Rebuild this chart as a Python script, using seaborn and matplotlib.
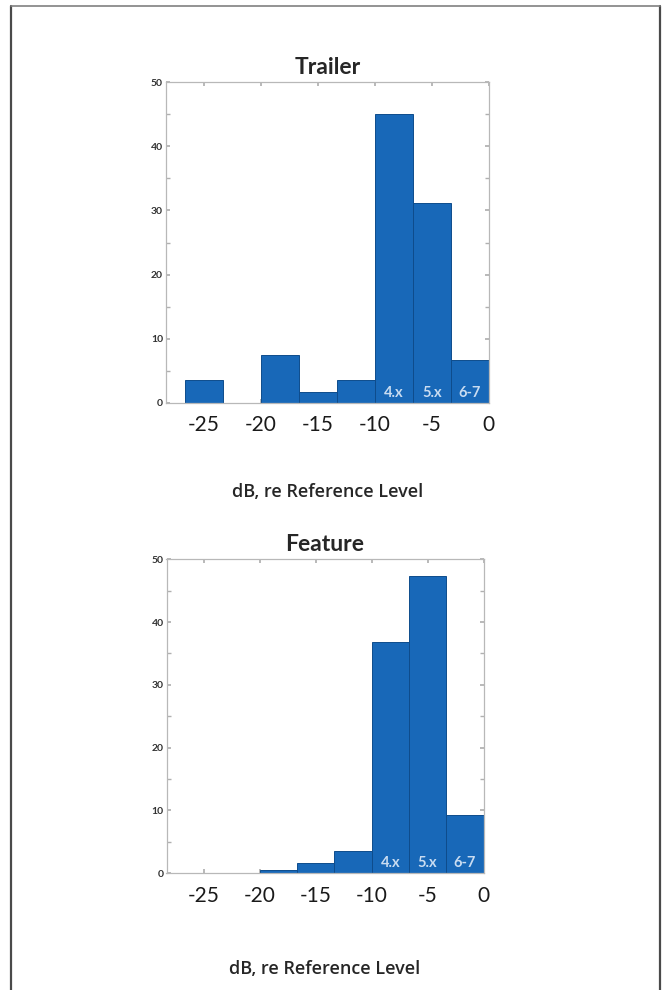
import numpy as np
import matplotlib
matplotlib.use("Agg")
import matplotlib.pyplot as plt
import seaborn as sns
from matplotlib.lines import Line2D
from matplotlib.ticker import MultipleLocator

# --- data (percent of titles per 3.33 dB bin) ---
bin_edges = [-26.67, -23.33, -20.0, -16.67, -13.33, -10.0, -6.67, -3.33, 0.0]
trailer_pct = [3.6, 0.0, 7.4, 1.7, 3.6, 45.1, 31.2, 6.7]
feature_pct = [0.0, 0.0, 0.5, 1.7, 3.6, 36.9, 47.4, 9.3]
panel_titles = ["Trailer", "Feature"]
bar_tags = ["4.x", "5.x", "6-7"]   # last three bins
x_ticks = [-25, -20, -15, -10, -5, 0]
x_label = "dB, re Reference Level"

sns.set_theme(style="white")
plt.rcParams["font.family"] = ["Lato", "DejaVu Sans"]
plt.rcParams["xtick.direction"] = "in"
plt.rcParams["ytick.direction"] = "in"

bar_color = "#1868b8"
edge_color = "#0e4c8c"

centers = [(a + b) / 2 for a, b in zip(bin_edges[:-1], bin_edges[1:])]

fig = plt.figure(figsize=(6.66, 9.9), dpi=100)
ax_top = fig.add_axes([0.249, 0.593, 0.485, 0.324])
ax_bot = fig.add_axes([0.250, 0.118, 0.476, 0.317])

for ax, title, vals, lpad in zip([ax_top, ax_bot], panel_titles,
                                 [trailer_pct, feature_pct], [34, 39]):
    sns.histplot(x=centers, weights=vals, bins=bin_edges, ax=ax,
                 color=bar_color, alpha=1, edgecolor=edge_color, linewidth=0.7)
    ax.set_xlim(-28.33, 0)
    ax.set_ylim(0, 50)
    ax.set_xticks(x_ticks)
    ax.set_xticklabels([str(t) for t in x_ticks])
    ax.yaxis.set_major_locator(MultipleLocator(10))
    ax.yaxis.set_minor_locator(MultipleLocator(5))
    ax.tick_params(axis="x", labelsize=15, colors="#1a1a1a", length=3,
                   top=True, bottom=True, pad=9, color="#b0b0b0")
    ax.tick_params(axis="y", which="both", labelsize=7.5, left=True, right=True,
                   length=3, color="#b0b0b0", labelcolor="#333333", pad=2)
    for lab in ax.get_yticklabels():
        lab.set_fontweight("bold")
    for sp in ax.spines.values():
        sp.set_color("#b8b8b8")
        sp.set_linewidth(0.9)
    ax.set_ylabel("")
    ax.set_title(title, fontsize=16.5, fontweight="bold", pad=6)
    ax.set_xlabel(x_label, fontsize=13, fontweight="semibold",
                  family=["Open Sans", "DejaVu Sans"], labelpad=lpad)
    for c, tag in zip(centers[-3:], bar_tags):
        ax.text(c, 1.6, tag, ha="center", va="center", fontsize=10.5,
                fontweight="bold", color="#c9dcf1")

# page frame lines
fig.add_artist(Line2D([0.0165, 0.0165], [0, 0.994], color="#4a4a4a", lw=1.6))
fig.add_artist(Line2D([0.991, 0.991], [0, 0.994], color="#4a4a4a", lw=1.6))
fig.add_artist(Line2D([0.0165, 0.991], [0.994, 0.994], color="#808080", lw=1.2))

fig.savefig("out.png", dpi=100, facecolor="white")
